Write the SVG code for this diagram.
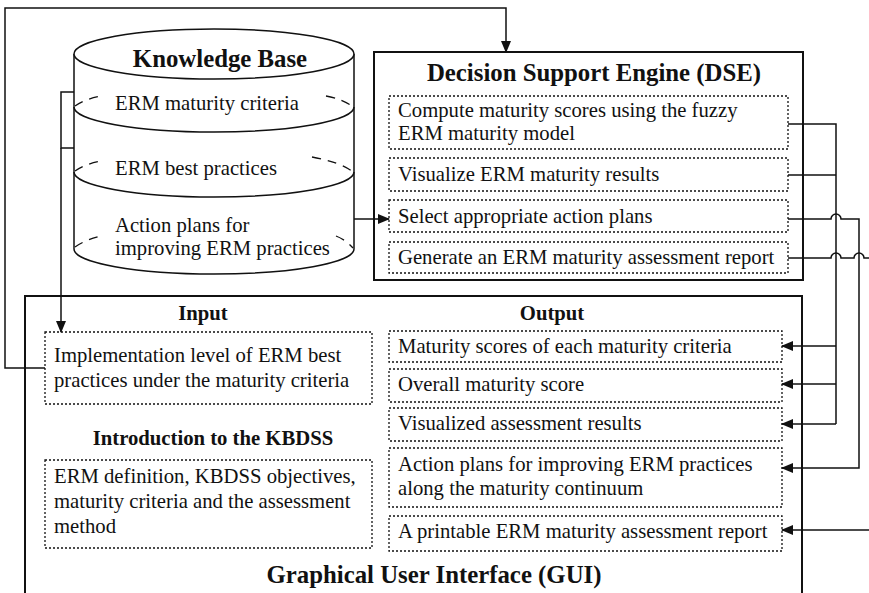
<svg xmlns="http://www.w3.org/2000/svg" width="869" height="593" viewBox="0 0 869 593">
  <style>
    .t { font-family: "Liberation Serif", "Times New Roman", serif; font-size: 20.7px; fill: #111; }
    .h { font-family: "Liberation Serif", "Times New Roman", serif; font-size: 20.7px; font-weight: bold; fill: #111; }
    .ttl { font-family: "Liberation Serif", "Times New Roman", serif; font-size: 24.8px; font-weight: bold; fill: #111; }
    .frame { fill: #fff; stroke: #111; stroke-width: 2; }
    .dot { fill: none; stroke: #111; stroke-width: 1.3; stroke-dasharray: 2 2; }
    .ln { fill: none; stroke: #111; stroke-width: 1.5; }
    .cyl { fill: #fff; stroke: #111; stroke-width: 1.5; }
    .dash { fill: none; stroke: #111; stroke-width: 1.3; stroke-dasharray: 9 7; }
  </style>
  <defs>
    <marker id="arr" markerWidth="12" markerHeight="10" refX="11" refY="5" orient="auto" markerUnits="userSpaceOnUse">
      <path d="M0,0 L12,5 L0,10 Z" fill="#111"/>
    </marker>
  </defs>

  <rect width="869" height="593" fill="#fff"/>

  <!-- GUI frame -->
  <g id="gui">
    <path class="frame" d="M25,600 V296 H802 V600"/>
    <text class="ttl" x="434" y="583" text-anchor="middle">Graphical User Interface (GUI)</text>
    <text class="h" x="203" y="320" text-anchor="middle">Input</text>
    <text class="h" x="552" y="320" text-anchor="middle">Output</text>
    <text class="h" x="213" y="445" text-anchor="middle">Introduction to the KBDSS</text>
  </g>

  <g id="input-box">
    <rect class="dot" x="45" y="332" width="327" height="72"/>
    <text class="t" x="54" y="362">Implementation level of ERM best</text>
    <text class="t" x="54" y="387">practices under the maturity criteria</text>
  </g>

  <g id="intro-box">
    <rect class="dot" x="45" y="460" width="327" height="88"/>
    <text class="t" x="54" y="483">ERM definition, KBDSS objectives,</text>
    <text class="t" x="54" y="508">maturity criteria and the assessment</text>
    <text class="t" x="54" y="533">method</text>
  </g>

  <g id="out-scores">
    <rect class="dot" x="389" y="331" width="393" height="31"/>
    <text class="t" x="398" y="353">Maturity scores of each maturity criteria</text>
  </g>
  <g id="out-overall">
    <rect class="dot" x="389" y="369" width="393" height="33"/>
    <text class="t" x="398" y="391">Overall maturity score</text>
  </g>
  <g id="out-visual">
    <rect class="dot" x="389" y="408" width="393" height="33"/>
    <text class="t" x="398" y="430">Visualized assessment results</text>
  </g>
  <g id="out-plans">
    <rect class="dot" x="389" y="448" width="393" height="59"/>
    <text class="t" x="398" y="471">Action plans for improving ERM practices</text>
    <text class="t" x="398" y="495">along the maturity continuum</text>
  </g>
  <g id="out-report">
    <rect class="dot" x="389" y="516" width="393" height="35"/>
    <text class="t" x="398" y="538">A printable ERM maturity assessment report</text>
  </g>

  <!-- Knowledge base cylinder -->
  <g id="knowledge-base">
    <path class="cyl" d="M74,54 V249 A140,25 0 0 0 354,249 V54"/>
    <ellipse class="cyl" cx="214" cy="54" rx="140" ry="25"/>
    <path class="ln" d="M74,107 A140,25 0 0 0 354,107"/>
    <path class="ln" d="M74,172 A140,25 0 0 0 354,172"/>
    <path class="dash" d="M75,106 Q85,99 101,96"/>
    <path class="dash" d="M326,96 Q343,99 353,107"/>
    <path class="dash" d="M75,171 Q85,164 101,161"/>
    <path class="dash" d="M312,157 Q340,162 353,172"/>
    <path class="dash" d="M75,247 Q85,240 101,236"/>
    <path class="dash" d="M336,236 Q346,240 353,248"/>
    <text class="ttl" x="220" y="67" text-anchor="middle">Knowledge Base</text>
    <text class="t" x="115" y="110">ERM maturity criteria</text>
    <text class="t" x="115" y="175">ERM best practices</text>
    <text class="t" x="115" y="232">Action plans for</text>
    <text class="t" x="115" y="255">improving ERM practices</text>
  </g>

  <!-- Decision support engine -->
  <g id="dse">
    <rect class="frame" x="374" y="52" width="429" height="228"/>
    <text class="ttl" x="594" y="81" text-anchor="middle">Decision Support Engine (DSE)</text>
  </g>
  <g id="dse-compute">
    <rect class="dot" x="389" y="96" width="399" height="53"/>
    <text class="t" x="398" y="117">Compute maturity scores using the fuzzy</text>
    <text class="t" x="398" y="140">ERM maturity model</text>
  </g>
  <g id="dse-visualize">
    <rect class="dot" x="389" y="158" width="399" height="33"/>
    <text class="t" x="398" y="181">Visualize ERM maturity results</text>
  </g>
  <g id="dse-select">
    <rect class="dot" x="389" y="200" width="399" height="32"/>
    <text class="t" x="398" y="223">Select appropriate action plans</text>
  </g>
  <g id="dse-generate">
    <rect class="dot" x="389" y="242" width="399" height="31"/>
    <text class="t" x="398" y="264">Generate an ERM maturity assessment report</text>
  </g>

  <!-- Connectors -->
  <g id="connectors">
    <!-- input loop back to the engine -->
    <path class="ln" d="M45,368 H5 V8 H506 V52" marker-end="url(#arr)"/>
    <!-- knowledge base bracket down to input -->
    <path class="ln" d="M74,92 H61 V148 H74"/>
    <path class="ln" d="M61,148 V332" marker-end="url(#arr)"/>
    <!-- knowledge base to action plan selection -->
    <path class="ln" d="M354,219 H389" marker-end="url(#arr)"/>
    <!-- scores and visualization bus -->
    <path class="ln" d="M788,124 H836 V424"/>
    <path class="ln" d="M788,175 H836"/>
    <path class="ln" d="M836,346 H782" marker-end="url(#arr)"/>
    <path class="ln" d="M836,384 H782" marker-end="url(#arr)"/>
    <path class="ln" d="M836,424 H782" marker-end="url(#arr)"/>
    <!-- action plans -->
    <path class="ln" d="M788,219 H831 A5,5 0 0 1 841,219 H859 V468 H782" marker-end="url(#arr)"/>
    <!-- report -->
    <path class="ln" d="M788,258 H831 A5,5 0 0 1 841,258 H854 A5,5 0 0 1 864,258 H869"/>
    <path class="ln" d="M869,530 H782" marker-end="url(#arr)"/>
  </g>
</svg>
